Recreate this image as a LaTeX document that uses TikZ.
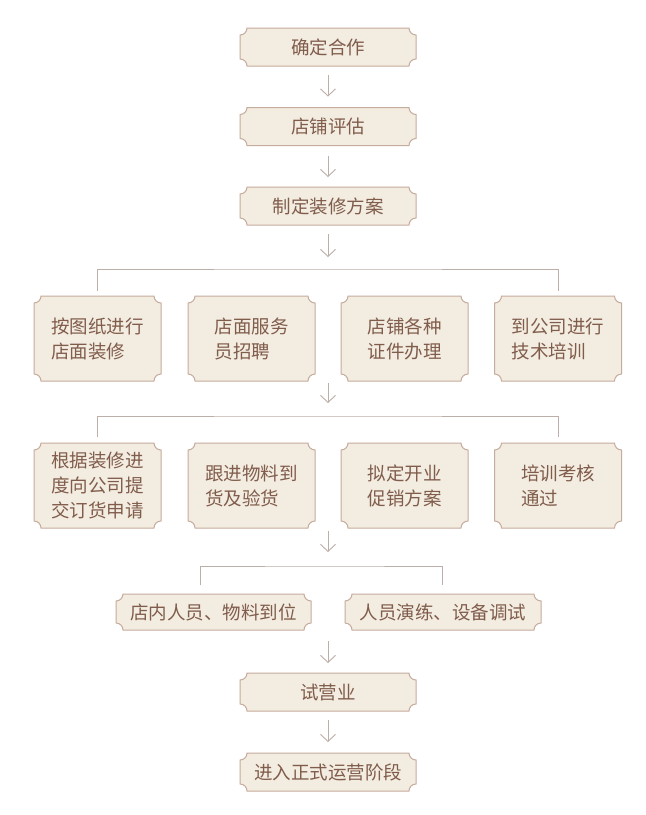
\documentclass[tikz,border=0pt]{standalone}
\usepackage{fontspec}
\setmainfont{Noto Sans CJK SC}
\usepackage{tikz}
\usetikzlibrary{arrows.meta, calc, backgrounds}

\definecolor{platefill}{HTML}{F3ECE1}
\definecolor{plateedge}{HTML}{C6AC9C}
\definecolor{platetext}{HTML}{805C4B}
\definecolor{linkgray}{HTML}{BCAEA8}

% outline with concave corners round a named node
\newcommand\plate[1]{%
  \filldraw[fill=platefill, draw=plateedge, line width=1pt]
    ($(#1.north west)+(7pt,0)$) -- ($(#1.north east)+(-7pt,0)$)
    arc[start angle=180, end angle=270, radius=7pt] -- ($(#1.south east)+(0,7pt)$)
    arc[start angle=90, end angle=180, radius=7pt] -- ($(#1.south west)+(7pt,0)$)
    arc[start angle=0, end angle=90, radius=7pt] -- ($(#1.north west)+(0,-7pt)$)
    arc[start angle=270, end angle=360, radius=7pt] -- cycle;}

\begin{document}
\begin{tikzpicture}[x=1pt, y=1pt,
        step box/.style={inner sep=0pt, outer sep=0pt, text=platetext,
            font=\fontsize{18.5}{25}\selectfont, align=left},
        wide/.style={step box, minimum width=176pt, minimum height=38pt},
        square/.style={step box, minimum width=127pt, minimum height=85pt},
        arr/.style={-{Straight Barb[length=7pt, width=15pt]}, draw=linkgray, line width=0.9pt},
        link/.style={draw=linkgray, line width=0.9pt}
    ]
        \useasboundingbox (0,0) rectangle (646,-815);

        % Top steps
        \node[wide] (hz) at (328,-47) {确定合作};
        \node[wide] (pg) at (328,-126.5) {店铺评估};
        \node[wide] (fa) at (328,-206) {制定装修方案};

        % First row
        \node[square] (zx) at (97.5,-338.5) {按图纸进行\\店面装修};
        \node[square] (zp) at (251.5,-338.5) {店面服务\\员招聘};
        \node[square] (bl) at (404.5,-338.5) {店铺各种\\证件办理};
        \node[square] (px) at (558,-338.5) {到公司进行\\技术培训};

        % Second row
        \node[square] (dh) at (97.5,-485.5) {根据装修进\\度向公司提\\交订货申请};
        \node[square] (yh) at (251.5,-485.5) {跟进物料到\\货及验货};
        \node[square] (cx) at (404.5,-485.5) {拟定开业\\促销方案};
        \node[square] (kh) at (558,-485.5) {培训考核\\通过};

        % Third row
        \node[step box, minimum width=195pt, minimum height=36pt] (dw) at (213.5,-612) {店内人员、物料到位};
        \node[step box, minimum width=196pt, minimum height=36pt] (ts) at (443,-612) {人员演练、设备调试};

        % Last steps
        \node[wide] (sy) at (328,-692) {试营业};
        \node[wide] (yy) at (328,-772) {进入正式运营阶段};

        % Branch points
        \coordinate (b1) at (328,-269);
        \coordinate (b2) at (328,-416);
        \coordinate (b3) at (328,-566);
        \coordinate (r1) at (328,-381);
        \coordinate (r2) at (328,-528);
        \coordinate (r3) at (328,-630);
        \coordinate (s1) at (200,-585);
        \coordinate (s2) at (442,-585);

        % Arrows
        \draw[arr, shorten <=9pt, shorten >=11pt] (hz) -- (pg);
        \draw[arr, shorten <=10pt, shorten >=10pt] (pg) -- (fa);
        \draw[arr, shorten <=9pt, shorten >=12pt] (fa) -- (b1);
        \draw[arr, shorten <=2pt, shorten >=13pt] (r1) -- (b2);
        \draw[arr, shorten <=3pt, shorten >=14pt] (r2) -- (b3);
        \draw[arr, shorten <=11pt, shorten >=10pt] (r3) -- (sy);
        \draw[arr, shorten <=9pt, shorten >=11pt] (sy) -- (yy);

        % Branch lines
        \draw[link, shorten <=5pt, shorten >=5pt] (zx.north) |- (b1) -| (px.north);
        \draw[link, shorten <=6pt, shorten >=6pt] (dh.north) |- (b2) -| (kh.north);
        \draw[link] (s1) |- (b3) -| (s2);

        \begin{scope}[on background layer]
            \fill[white] (0,0) rectangle (646,-815);
            \foreach \n in {hz,pg,fa,zx,zp,bl,px,dh,yh,cx,kh,dw,ts,sy,yy}
                \plate{\n};
        \end{scope}
    \end{tikzpicture}
\end{document}
